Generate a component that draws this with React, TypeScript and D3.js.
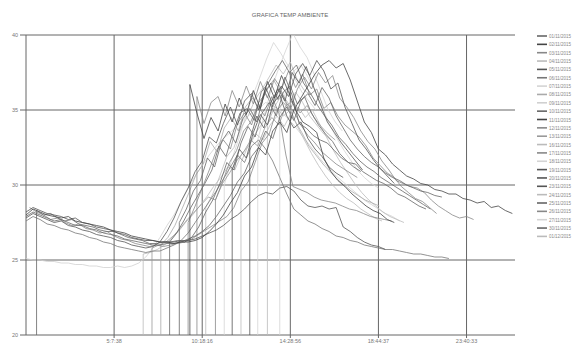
import React from "react";
import * as d3 from "d3";

const title = "GRAFICA TEMP AMBIENTE";
const yTicks = [20, 25, 30, 35, 40];
const xTickIdx = [100, 200, 300, 400, 500];
const xTickLabels = ["5:7:38", "10:18:16", "14:28:56", "18:44:37", "23:40:33"];
const STEP = 8;

const legendLabels = [
  "01/11/2015", "02/11/2015", "03/11/2015", "04/11/2015", "05/11/2015",
  "06/11/2015", "07/11/2015", "08/11/2015", "09/11/2015", "10/11/2015",
  "11/11/2015", "12/11/2015", "13/11/2015", "16/11/2015", "17/11/2015",
  "18/11/2015", "19/11/2015", "20/11/2015", "23/11/2015", "24/11/2015",
  "25/11/2015", "26/11/2015", "27/11/2015", "30/11/2015", "01/12/2015",
];
const colors = [
  "#666", "#444", "#888", "#bbb", "#555", "#777", "#d4d4d4", "#aaa", "#d0d0d0", "#666",
  "#444", "#888", "#999", "#bbb", "#888", "#d4d4d4", "#555", "#555", "#555", "#bbb",
  "#666", "#888", "#d4d4d4", "#666", "#bbb",
];
// first sample index of each series
const starts = [12, 0, 4, 133, 0, 0, 263, 153, 0, 174, 186, 194, 143, 204, 215, 225, 234, 0, 254, 274, 163, 184, 288, 0, 244];
// series whose logger came up from zero (vertical rise from the floor)
const risers = [true, false, false, true, false, false, true, true, false, true, true, true, true, true, true, true, true, false, true, true, true, true, true, false, true];

const d0111 = [28.3, 28.0, 28.1, 27.8, 27.6, 27.7, 27.4, 27.3, 27.2, 27.0, 26.9, 26.9, 26.7, 26.5, 26.4, 26.3, 26.1, 26.1, 26.2, 26.2, 26.3, 26.2, 26.5, 27.2, 28.2, 29.0, 30.1, 31.5, 31.0, 32.8, 33.9, 33.2, 34.8, 35.5, 34.6, 36.2, 36.6, 35.4, 35.9, 34.8, 34.0, 33.4, 32.9, 32.1, 31.6, 31.2, 30.9];
const d0211 = [28.0, 28.4, 28.2, 28.0, 27.9, 27.8, 27.9, 27.6, 27.5, 27.4, 27.3, 27.2, 27.0, 26.9, 26.8, 26.6, 26.5, 26.4, 26.3, 26.2, 26.2, 26.1, 26.2, 26.2, 26.3, 26.5, 26.9, 27.4, 28.0, 28.8, 29.5, 30.6, 31.2, 32.5, 32.0, 33.6, 34.2, 33.5, 35.0, 35.8, 36.6, 37.4, 38.0, 38.3, 37.8, 38.1, 37.0, 35.6, 34.2, 33.5, 32.4, 32.0, 31.4, 31.0, 30.6, 30.4, 30.1, 30.0, 29.7, 29.6, 29.4, 29.4, 29.1, 29.0, 28.8, 28.9, 28.5, 28.6, 28.3, 28.1];
const d0311 = [28.5, 28.2, 28.0, 27.7, 27.8, 27.5, 27.3, 27.4, 27.1, 27.0, 26.8, 26.9, 26.6, 26.4, 26.3, 26.1, 26.0, 25.9, 26.0, 25.9, 26.0, 26.1, 26.2, 26.4, 26.7, 27.0, 27.3, 27.6, 27.9, 28.5, 29.6, 30.2, 31.5, 32.8, 33.4, 34.9, 35.5, 35.0, 36.4, 37.2, 36.4, 37.5, 36.8, 37.3, 35.8, 35.2, 34.5, 33.6, 32.9, 32.4, 31.6, 31.0, 30.3, 30.1, 29.9, 29.8, 29.5, 29.0, 28.6, 28.3, 28.0, 27.8, 27.9, 27.7];
const d0411 = [25.4, 25.5, 25.7, 26.0, 26.4, 26.9, 27.5, 28.0, 28.6, 29.2, 29.9, 30.5, 31.2, 31.0, 32.1, 32.6, 33.4, 33.0, 34.0, 34.6, 33.9, 34.8, 35.2, 34.5, 35.0, 34.1, 33.2, 32.3, 31.5, 30.8, 30.1, 29.5, 29.0, 28.6, 28.2, 27.9, 27.7, 27.5];
const d0511 = [27.8, 28.1, 27.9, 27.7, 27.5, 27.6, 27.3, 27.2, 27.0, 26.9, 26.7, 26.6, 26.5, 26.3, 26.2, 26.0, 25.9, 25.8, 25.9, 26.2, 26.9, 27.8, 28.9, 29.8, 30.9, 31.6, 33.2, 32.8, 34.1, 35.2, 34.0, 35.6, 36.1, 35.0, 36.5, 35.4, 36.0, 34.6, 33.8, 34.2, 33.1, 32.4, 31.9, 31.2, 30.8, 30.5];
const d0611 = [27.6, 27.9, 27.7, 27.4, 27.3, 27.1, 27.0, 26.8, 26.7, 26.5, 26.4, 26.2, 26.1, 25.9, 25.8, 25.7, 25.6, 25.5, 25.6, 25.6, 25.8, 26.0, 26.3, 26.8, 27.5, 28.2, 28.9, 29.6, 30.4, 31.2, 32.0, 31.5, 32.6, 33.0, 32.4, 31.6, 30.5, 29.4, 28.4, 28.0, 27.6, 27.4, 27.1, 26.9, 26.6, 26.5, 26.3, 26.2, 26.0, 25.9, 25.8, 25.7, 25.7, 25.6, 25.5, 25.4, 25.4, 25.3, 25.2, 25.2, 25.1];
const d0711 = [33.0, 34.8, 36.5, 37.8, 39.0, 40.1, 39.2, 38.5, 37.4, 36.2, 35.0, 34.2, 33.6];
const d0811 = [26.0, 26.5, 27.3, 28.4, 29.5, 30.7, 31.4, 32.9, 32.2, 33.8, 34.5, 33.6, 35.2, 35.8, 35.0, 36.4, 37.0, 36.2, 35.5, 34.3, 33.5, 32.6, 32.0, 31.4, 30.9, 30.4, 30.0, 29.6, 29.3, 29.0, 28.8, 28.6];
const d0911 = [25.1, 25.0, 25.0, 24.9, 24.9, 24.8, 24.8, 24.7, 24.7, 24.6, 24.6, 24.5, 24.5, 24.6, 24.5, 24.6, 24.8, 25.2, 25.8, 26.5, 27.3, 28.0, 28.9, 29.8, 30.6, 31.3, 32.0, 32.6, 33.1, 33.5, 34.0, 34.4, 34.8, 35.1, 35.5, 35.3, 35.0, 34.5, 34.0, 33.4, 32.8, 32.2, 31.6, 31.1, 30.6, 30.2, 29.8, 29.4, 29.0, 28.7, 28.4, 28.1, 27.9, 27.6];
const d1011 = [27.5, 28.4, 29.6, 30.3, 31.8, 31.2, 32.9, 33.6, 32.8, 34.4, 35.1, 34.2, 36.0, 36.8, 35.7, 37.2, 36.0, 34.1, 33.8, 33.3, 33.0, 32.8, 32.3, 31.8, 31.5, 31.4, 30.9, 30.6, 30.3, 30.1, 29.8, 29.4, 29.2, 28.9, 28.6, 28.4];
const d1111 = [36.7, 34.8, 33.1, 34.5, 33.6, 35.4, 34.2, 35.8, 34.7, 36.3, 35.1, 36.9, 35.8, 37.3, 36.2, 35.0, 34.2, 33.9, 33.5, 31.8, 30.9, 30.3, 29.9, 29.4, 29.0, 28.6, 28.3, 28.1, 27.7, 27.5];
const d1211 = [35.9, 34.1, 35.5, 35.9, 34.6, 36.3, 35.2, 36.6, 35.4, 36.9, 35.8, 37.1, 36.4, 37.6, 36.5, 37.4, 36.0, 36.4, 35.1, 35.5, 34.6, 34.0, 33.6, 33.2, 32.6, 31.8, 31.3, 30.8, 30.5, 29.9, 29.5, 29.1, 28.9, 28.5, 28.1];
const d1311 = [25.8, 26.0, 26.2, 26.6, 27.1, 27.7, 28.2, 28.7, 29.2, 29.0, 30.1, 30.8, 31.6, 32.2, 33.0, 32.6, 33.8, 34.5, 34.0, 35.3, 35.6, 34.8, 35.3, 34.5, 33.9, 33.4, 33.0];
const d1611 = [28.5, 29.4, 30.6, 31.9, 32.5, 33.8, 34.6, 35.7, 36.4, 37.2, 38.0, 37.4, 38.2, 37.0, 36.3, 36.0];
const d1711 = [29.0, 30.2, 31.5, 32.3, 33.6, 34.2, 35.3, 34.6, 35.9, 34.8, 32.0, 29.9, 29.7, 29.5, 29.2, 29.0, 28.9, 28.8, 28.6, 28.4, 28.3, 28.1, 27.9, 27.8, 27.7, 27.6];
const d1811 = [30.0, 31.6, 33.0, 34.5, 35.9, 37.1, 38.4, 39.5, 38.8, 38.0, 37.1, 36.2, 35.6, 35.0];
const d1911 = [31.0, 32.4, 31.8, 33.5, 34.7, 34.0, 35.8, 36.6, 35.9, 37.4, 38.1, 37.3, 38.3, 37.6, 36.4, 36.8, 35.2, 34.1, 33.0, 32.4, 31.7, 31.1, 30.6, 30.1];
const d2011 = [28.2, 28.5, 28.3, 28.1, 28.0, 27.9, 27.7, 27.8, 27.5, 27.4, 27.2, 27.1, 27.0, 26.8, 26.7, 26.5, 26.4, 26.3, 26.3, 26.2, 26.2, 26.2, 26.3, 26.3, 26.4, 26.6, 26.8, 27.0, 27.3, 27.7, 28.0, 28.4, 28.9, 29.3, 29.5, 29.4, 29.8, 29.9, 29.6, 29.0, 28.6, 28.5, 28.6, 28.4, 28.5, 27.2, 26.9, 26.5, 26.2, 26.0, 25.9, 25.7];
const d2311 = [33.0, 34.6, 33.8, 35.5, 36.4, 35.6, 37.5, 36.8, 37.9, 36.6, 35.4, 34.2, 33.5, 32.8, 32.2, 31.6, 31.0];
const d2411 = [34.0, 35.2, 36.0, 35.1, 36.2, 35.5, 34.6, 34.0, 33.4, 33.0];
const d2511 = [26.2, 26.8, 27.6, 28.5, 29.3, 30.1, 31.0, 32.6, 31.9, 33.5, 34.8, 35.1, 34.3, 36.2, 36.8, 37.6, 38.3, 37.5, 38.0, 36.8, 36.1, 35.3, 34.6, 34.0, 33.2, 32.7, 32.1, 31.6, 31.2, 30.9, 30.5, 30.2, 29.9, 29.6, 29.3, 29.0, 28.7, 28.4];
const d2611 = [27.5, 28.6, 29.8, 31.0, 32.3, 33.0, 32.4, 34.1, 34.8, 34.0, 35.5, 36.1, 35.2, 36.5, 35.4, 34.9, 34.0, 33.3, 32.8, 32.2, 31.8, 31.4, 31.1, 30.8, 30.5];
const d2711 = [35.0, 36.4, 37.6, 38.0, 37.2, 36.3, 35.2, 34.1, 33.2, 32.4, 31.7, 31.0, 30.5, 30.1, 29.8];
const d3011 = [27.9, 28.2, 28.0, 27.8, 27.6, 27.7, 27.5, 27.3, 27.3, 27.1, 27.0, 26.8, 26.7, 26.6, 26.4, 26.3, 26.2, 26.1, 26.0, 26.0, 26.1, 26.1, 26.2, 26.4, 26.6, 26.9, 27.3, 27.9, 28.6, 29.3, 30.2, 30.8, 31.9, 32.5, 33.6, 33.1, 34.5, 35.2, 34.3, 35.6, 36.1, 35.3, 36.5, 35.8, 34.6, 33.8, 33.0, 32.4, 31.9, 31.5, 31.2, 30.8, 30.5, 30.3, 30.0, 29.8, 29.6, 29.5, 29.3, 29.2];
const d0112 = [31.5, 32.6, 33.4, 34.1, 34.7, 35.2, 34.6, 35.0, 33.9, 33.0, 32.1, 31.3, 30.6, 30.0, 29.5, 29.1, 28.8, 28.4, 28.1, 27.8, 27.6];

const seriesValues = [
  d0111, d0211, d0311, d0411, d0511, d0611, d0711, d0811, d0911, d1011,
  d1111, d1211, d1311, d1611, d1711, d1811, d1911, d2011, d2311, d2411,
  d2511, d2611, d2711, d3011, d0112,
];

const W = 575;
const H = 345;
const left = 26;
const right = 515;
const top = 35;
const bottom = 335;

export default function App() {
  const x = d3.scaleLinear().domain([0, 555]).range([left, right]);
  const y = d3.scaleLinear().domain([20, 40]).range([bottom, top]);

  const line = d3
    .line<{ i: number; v: number }>()
    .x((d) => x(d.i))
    .y((d) => y(d.v));

  const paths = seriesValues.map((vals, s) => {
    const pts = vals.map((v, k) => ({ i: starts[s] + k * STEP, v }));
    if (risers[s]) pts.unshift({ i: starts[s], v: 0 });
    return line(pts) || "";
  });

  // draw light lines first so darker ones sit on top
  const order = d3.range(seriesValues.length).sort((a, b) => {
    const la = d3.hsl(colors[a]).l;
    const lb = d3.hsl(colors[b]).l;
    return lb - la;
  });

  const font = "Liberation Sans, Arial, sans-serif";

  return (
    <svg
      width={W}
      height={H}
      style={{ position: "absolute", left: 0, top: 0, background: "#fff" }}
      fontFamily={font}
    >
      <defs>
        <clipPath id="plot">
          <rect x={left} y={top} width={right - left} height={bottom - top} />
        </clipPath>
      </defs>
      <text x={290} y={17} textAnchor="middle" fontSize={6} fill="#666">
        {title}
      </text>

      {/* horizontal grid */}
      {yTicks.map((t) => (
        <g key={"y" + t}>
          <line x1={20} x2={right} y1={y(t)} y2={y(t)} stroke="#666" strokeWidth={1} />
          <text x={15} y={y(t) + 2} textAnchor="middle" fontSize={5.5} fill="#777">
            {t}
          </text>
        </g>
      ))}
      {/* vertical grid */}
      {xTickIdx.map((t, k) => (
        <g key={"x" + t}>
          <line x1={x(t)} x2={x(t)} y1={top} y2={bottom + 3} stroke="#666" strokeWidth={1} />
          <text x={x(t)} y={bottom + 8} textAnchor="middle" fontSize={5.5} fill="#777">
            {xTickLabels[k]}
          </text>
        </g>
      ))}
      <line x1={left} x2={left} y1={top} y2={bottom} stroke="#666" strokeWidth={1} />

      <g clipPath="url(#plot)">
        {order.map((s) => (
          <path key={s} d={paths[s]} fill="none" stroke={colors[s]} strokeWidth={0.8} />
        ))}
      </g>

      {/* legend */}
      {legendLabels.map((lab, k) => {
        const ly = 36 + k * 8.35;
        return (
          <g key={lab}>
            <line x1={537} x2={547} y1={ly} y2={ly} stroke={colors[k]} strokeWidth={1.6} />
            <text
              x={549}
              y={ly + 2}
              fontSize={5}
              fill="#888"
              textLength={22}
              lengthAdjust="spacingAndGlyphs"
            >
              {lab}
            </text>
          </g>
        );
      })}
    </svg>
  );
}
